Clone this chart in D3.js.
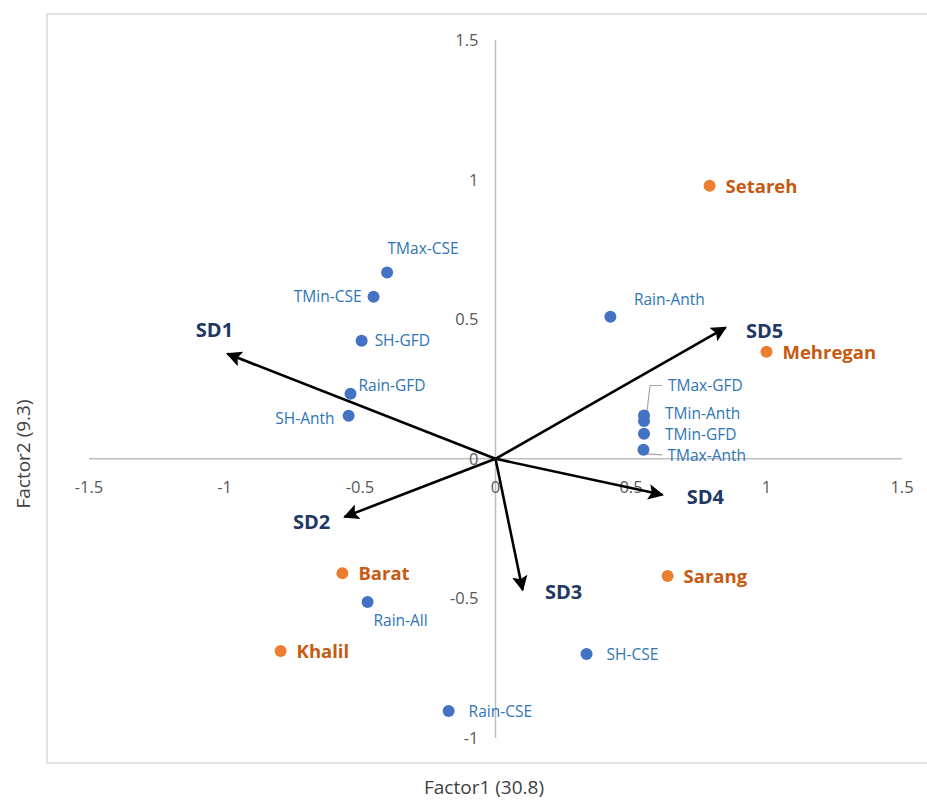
<!DOCTYPE html>
<html>
<head>
<meta charset="utf-8">
<script src="https://cdn.jsdelivr.net/npm/d3@7"></script>
<style>
  body { margin: 0; background: #fff; }
  svg { display: block; font-family: "Open Sans", "Liberation Sans", sans-serif; }
</style>
</head>
<body>
<svg id="chart" width="927" height="800"></svg>
<script>
// Biplot: traits (blue), cultivars (orange), SD vectors (arrows)
const traitNames = ['TMax-CSE','TMin-CSE','SH-GFD','Rain-GFD','SH-Anth','Rain-All','Rain-CSE','SH-CSE','Rain-Anth','TMax-GFD','TMin-Anth','TMin-GFD','TMax-Anth'];
const traitX = [-0.40, -0.45, -0.494, -0.535, -0.542, -0.472, -0.173, 0.336, 0.424, 0.548, 0.548, 0.548, 0.546];
const traitY = [0.667, 0.58, 0.423, 0.233, 0.154, -0.513, -0.903, -0.699, 0.509, 0.155, 0.135, 0.09, 0.032];

const cultivarNames = ['Setareh','Mehregan','Sarang','Barat','Khalil'];
const cultivarX = [0.79, 1.0, 0.635, -0.565, -0.793];
const cultivarY = [0.978, 0.383, -0.42, -0.41, -0.688];

const vectorNames = ['SD1','SD2','SD3','SD4','SD5'];
const vectorX = [-0.989, -0.557, 0.10, 0.616, 0.849];
const vectorY = [0.376, -0.208, -0.47, -0.129, 0.47];

const tickVals = [-1.5, -1, -0.5, 0, 0.5, 1, 1.5];

// label placement (pixel offsets from the mark, anchor)
const traitLabelPos = {
  'TMax-CSE': [36, -24, 'middle'], 'TMin-CSE': [-12, 0, 'end'], 'SH-GFD': [13, 0, 'start'],
  'Rain-GFD': [8, -8, 'start'], 'SH-Anth': [-14, 3, 'end'], 'Rain-All': [33, 18, 'middle'],
  'Rain-CSE': [20, 1, 'start'], 'SH-CSE': [20, 1, 'start'], 'Rain-Anth': [59, -17, 'middle'],
  'TMax-GFD': [24, -30, 'start'], 'TMin-Anth': [21, -8, 'start'], 'TMin-GFD': [21, 1, 'start'],
  'TMax-Anth': [24, 6, 'start']
};
const vectorLabelPos = { SD1: [-13, -24], SD2: [-33, 5], SD3: [41, 2], SD4: [43, 2], SD5: [39, 3] };

const svg = d3.select('#chart');
const x = d3.scaleLinear().domain([-1.5, 1.5]).range([89, 902]);
const y = d3.scaleLinear().domain([-1, 1.5]).range([738, 40]);

// frame
svg.append('rect').attr('x', 47).attr('y', 14).attr('width', 900).attr('height', 749)
  .attr('fill', 'none').attr('stroke', '#d9d9d9').attr('stroke-width', 1.5);

// axes through the origin
svg.append('line').attr('x1', x(-1.5)).attr('x2', x(1.5)).attr('y1', y(0)).attr('y2', y(0))
  .attr('stroke', '#bfbfbf').attr('stroke-width', 1.5);
svg.append('line').attr('x1', x(0)).attr('x2', x(0)).attr('y1', y(-1)).attr('y2', y(1.5))
  .attr('stroke', '#bfbfbf').attr('stroke-width', 1.5);

const fmt = d => String(d);
svg.append('g').selectAll('text').data(tickVals).join('text')
  .attr('x', d => x(d)).attr('y', y(0) + 34)
  .attr('text-anchor', 'middle').attr('font-size', 16.5).attr('fill', '#595959')
  .text(fmt);
svg.append('g').selectAll('text').data(tickVals.filter(d => d >= -1)).join('text')
  .attr('x', x(0) - 17).attr('y', d => y(d) + 6)
  .attr('text-anchor', 'end').attr('font-size', 16.5).attr('fill', '#595959')
  .text(fmt);

// axis titles
svg.append('text').attr('x', 484).attr('y', 794).attr('text-anchor', 'middle')
  .attr('font-size', 19).attr('fill', '#404040').text('Factor1 (30.8)');
svg.append('text').attr('transform', 'translate(30,454) rotate(-90)').attr('text-anchor', 'middle')
  .attr('font-size', 19).attr('fill', '#404040').text('Factor2 (9.3)');

// arrows
svg.append('defs').append('marker').attr('id', 'ah')
  .attr('viewBox', '0 0 10 10').attr('refX', 9).attr('refY', 5)
  .attr('markerWidth', 6).attr('markerHeight', 6).attr('markerUnits', 'strokeWidth')
  .attr('orient', 'auto')
  .append('path').attr('d', 'M0,0L10,5L0,10L2,5Z').attr('fill', '#000');

svg.append('g').selectAll('line').data(vectorNames).join('line')
  .attr('x1', x(0)).attr('y1', y(0))
  .attr('x2', (d, i) => x(vectorX[i])).attr('y2', (d, i) => y(vectorY[i]))
  .attr('stroke', '#000').attr('stroke-width', 2.6).attr('marker-end', 'url(#ah)');

svg.append('g').selectAll('text').data(vectorNames).join('text')
  .attr('x', (d, i) => x(vectorX[i]) + vectorLabelPos[d][0])
  .attr('y', (d, i) => y(vectorY[i]) + vectorLabelPos[d][1] + 7)
  .attr('text-anchor', 'middle').attr('font-size', 20).attr('font-weight', 'bold')
  .attr('fill', '#1f3864').text(d => d);

// leader lines for the crowded cluster
const iG = traitNames.indexOf('TMax-GFD'), iA = traitNames.indexOf('TMax-Anth');
svg.append('path')
  .attr('d', `M${x(traitX[iG]) + 3},${y(traitY[iG]) - 4}L${x(traitX[iG]) + 6},${y(traitY[iG]) - 30}L${x(traitX[iG]) + 18},${y(traitY[iG]) - 30}`)
  .attr('fill', 'none').attr('stroke', '#a6a6a6').attr('stroke-width', 1.2);
svg.append('path')
  .attr('d', `M${x(traitX[iA]) + 2},${y(traitY[iA]) + 4}L${x(traitX[iA]) + 19},${y(traitY[iA]) + 5}`)
  .attr('fill', 'none').attr('stroke', '#a6a6a6').attr('stroke-width', 1.2);

// trait points
svg.append('g').selectAll('circle').data(traitNames).join('circle')
  .attr('cx', (d, i) => x(traitX[i])).attr('cy', (d, i) => y(traitY[i]))
  .attr('r', 6).attr('fill', '#4472c4');
svg.append('g').selectAll('text').data(traitNames).join('text')
  .attr('x', (d, i) => x(traitX[i]) + traitLabelPos[d][0])
  .attr('y', (d, i) => y(traitY[i]) + traitLabelPos[d][1] + 5.5)
  .attr('text-anchor', d => traitLabelPos[d][2])
  .attr('font-size', 15.5).attr('fill', '#2e75b6').text(d => d);

// cultivar points
svg.append('g').selectAll('circle').data(cultivarNames).join('circle')
  .attr('cx', (d, i) => x(cultivarX[i])).attr('cy', (d, i) => y(cultivarY[i]))
  .attr('r', 6).attr('fill', '#ed7d31');
svg.append('g').selectAll('text').data(cultivarNames).join('text')
  .attr('x', (d, i) => x(cultivarX[i]) + 16)
  .attr('y', (d, i) => y(cultivarY[i]) + 7)
  .attr('font-size', 18.5).attr('font-weight', 'bold')
  .attr('fill', '#c55a11').text(d => d);
</script>
</body>
</html>
